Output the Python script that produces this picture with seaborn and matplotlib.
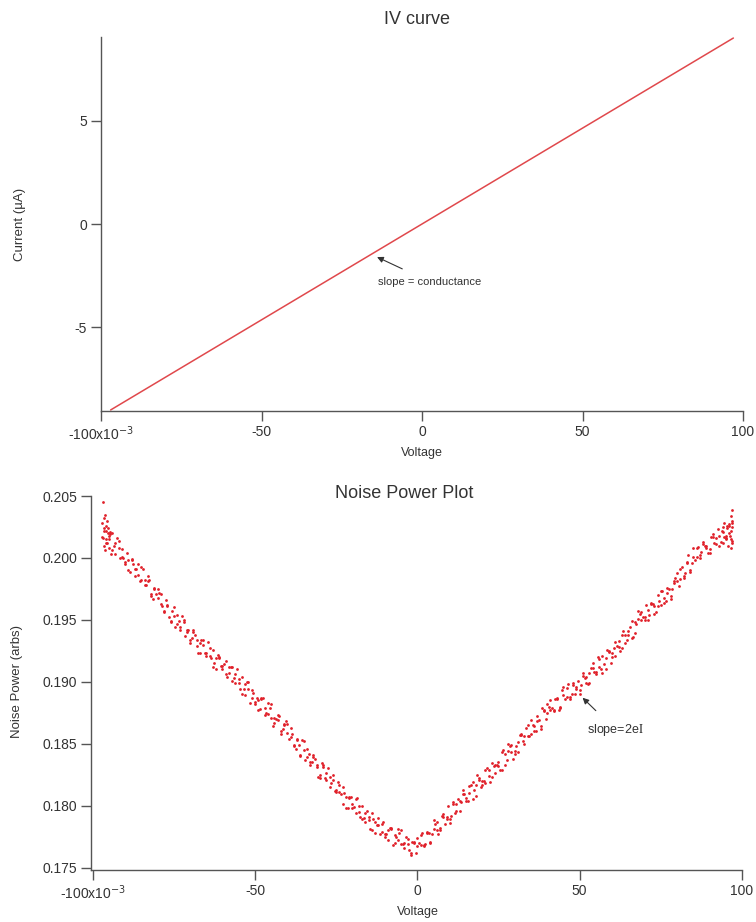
import numpy as np
import pandas as pd
import matplotlib
matplotlib.use("Agg")
import matplotlib.pyplot as plt
import seaborn as sns

sns.set_theme(style="ticks")
plt.rcParams['font.family'] = ['Liberation Sans', 'DejaVu Sans']
plt.rcParams['axes.unicode_minus'] = False

# IV curve: straight line, end points
iv_voltage = [-97.0, 97.0]
iv_current = [-9.0, 9.0]

# Noise power, sweeps at 1 mV steps (values in 1e-4 units of noise power)
sweep_voltage = [
    -97, -96, -95, -94, -93, -92, -91, -90, -89, -88, -87, -86, -85, -84, -83, -82, -81, -80, -79, -78,
    -77, -76, -75, -74, -73, -72, -71, -70, -69, -68, -67, -66, -65, -64, -63, -62, -61, -60, -59, -58,
    -57, -56, -55, -54, -53, -52, -51, -50, -49, -48, -47, -46, -45, -44, -43, -42, -41, -40, -39, -38,
    -37, -36, -35, -34, -33, -32, -31, -30, -29, -28, -27, -26, -25, -24, -23, -22, -21, -20, -19, -18,
    -17, -16, -15, -14, -13, -12, -11, -10, -9, -8, -7, -6, -5, -4, -3, -2, -1, 0, 1, 2,
    3, 4, 5, 6, 7, 8, 9, 10, 11, 12, 13, 14, 15, 16, 17, 18, 19, 20, 21, 22,
    23, 24, 25, 26, 27, 28, 29, 30, 31, 32, 33, 34, 35, 36, 37, 38, 39, 40, 41, 42,
    43, 44, 45, 46, 47, 48, 49, 50, 51, 52, 53, 54, 55, 56, 57, 58, 59, 60, 61, 62,
    63, 64, 65, 66, 67, 68, 69, 70, 71, 72, 73, 74, 75, 76, 77, 78, 79, 80, 81, 82,
    83, 84, 85, 86, 87, 88, 89, 90, 91, 92, 93, 94, 95, 96, 97,
]
sweep_a = [
    2028, 2015, 2018, 2006, 2012, 2014, 2001, 1995, 1998, 1998, 1985, 1995, 1982, 1982, 1985, 1969, 1975, 1968, 1971, 1957,
    1961, 1949, 1960, 1947, 1942, 1948, 1942, 1931, 1940, 1929, 1931, 1934, 1921, 1921, 1926, 1910, 1919, 1913, 1906, 1912,
    1912, 1899, 1902, 1890, 1898, 1900, 1887, 1882, 1885, 1886, 1873, 1883, 1871, 1871, 1873, 1858, 1865, 1859, 1863, 1849,
    1853, 1841, 1852, 1839, 1833, 1839, 1833, 1822, 1831, 1821, 1823, 1825, 1811, 1811, 1815, 1798, 1806, 1801, 1794, 1800,
    1800, 1787, 1791, 1780, 1787, 1790, 1779, 1775, 1780, 1781, 1770, 1781, 1769, 1770, 1773, 1760, 1770, 1767, 1776, 1768,
    1778, 1771, 1788, 1780, 1780, 1791, 1791, 1786, 1801, 1796, 1804, 1813, 1804, 1810, 1819, 1808, 1821, 1820, 1818, 1829,
    1834, 1826, 1835, 1829, 1842, 1850, 1843, 1842, 1851, 1857, 1850, 1865, 1858, 1864, 1872, 1862, 1876, 1875, 1885, 1877,
    1886, 1880, 1896, 1888, 1886, 1897, 1896, 1890, 1905, 1899, 1907, 1915, 1906, 1912, 1921, 1910, 1924, 1923, 1921, 1933,
    1938, 1931, 1941, 1935, 1948, 1957, 1950, 1950, 1958, 1963, 1955, 1970, 1962, 1968, 1976, 1967, 1980, 1981, 1991, 1985,
    1996, 1990, 2008, 2001, 2000, 2011, 2010, 2004, 2017, 2011, 2018, 2025, 2016, 2020, 2028,
]
sweep_b = [
    2017, 2022, 2015, 2020, 2003, 2008, 2007, 1997, 1990, 1999, 1991, 1986, 1993, 1978, 1981, 1971, 1976, 1975, 1963, 1956,
    1962, 1948, 1953, 1954, 1944, 1950, 1940, 1934, 1942, 1934, 1923, 1930, 1923, 1927, 1912, 1919, 1920, 1910, 1917, 1907,
    1901, 1906, 1899, 1904, 1889, 1894, 1893, 1884, 1877, 1887, 1879, 1874, 1882, 1867, 1869, 1860, 1866, 1866, 1855, 1848,
    1854, 1840, 1845, 1846, 1835, 1841, 1831, 1825, 1833, 1826, 1815, 1821, 1813, 1817, 1801, 1807, 1807, 1798, 1805, 1795,
    1789, 1794, 1788, 1794, 1778, 1784, 1785, 1777, 1772, 1782, 1776, 1772, 1780, 1766, 1769, 1762, 1771, 1774, 1768, 1767,
    1779, 1770, 1781, 1787, 1782, 1793, 1789, 1789, 1803, 1801, 1796, 1809, 1806, 1816, 1805, 1817, 1822, 1817, 1829, 1824,
    1823, 1833, 1832, 1843, 1833, 1844, 1849, 1844, 1843, 1858, 1856, 1856, 1869, 1860, 1868, 1864, 1877, 1882, 1877, 1876,
    1887, 1879, 1889, 1895, 1888, 1899, 1894, 1893, 1907, 1904, 1899, 1911, 1908, 1918, 1907, 1919, 1925, 1920, 1932, 1928,
    1927, 1938, 1938, 1949, 1939, 1951, 1956, 1952, 1950, 1964, 1961, 1961, 1973, 1964, 1972, 1969, 1981, 1988, 1983, 1984,
    1997, 1989, 2001, 2008, 2002, 2013, 2008, 2007, 2019, 2016, 2010, 2021, 2018, 2026, 2014,
]
# third pass, sampled between the whole-mV points
half_voltage = [
    -96.5, -95.5, -94.5, -93.5, -92.5, -91.5, -90.5, -89.5, -88.5, -87.5, -86.5, -85.5, -84.5, -83.5, -82.5, -81.5,
    -80.5, -79.5, -78.5, -77.5, -76.5, -75.5, -74.5, -73.5, -72.5, -71.5, -70.5, -69.5, -68.5, -67.5, -66.5, -65.5,
    -64.5, -63.5, -62.5, -61.5, -60.5, -59.5, -58.5, -57.5, -56.5, -55.5, -54.5, -53.5, -52.5, -51.5, -50.5, -49.5,
    -48.5, -47.5, -46.5, -45.5, -44.5, -43.5, -42.5, -41.5, -40.5, -39.5, -38.5, -37.5, -36.5, -35.5, -34.5, -33.5,
    -32.5, -31.5, -30.5, -29.5, -28.5, -27.5, -26.5, -25.5, -24.5, -23.5, -22.5, -21.5, -20.5, -19.5, -18.5, -17.5,
    -16.5, -15.5, -14.5, -13.5, -12.5, -11.5, -10.5, -9.5, -8.5, -7.5, -6.5, -5.5, -4.5, -3.5, -2.5, -1.5,
    -0.5, 0.5, 1.5, 2.5, 3.5, 4.5, 5.5, 6.5, 7.5, 8.5, 9.5, 10.5, 11.5, 12.5, 13.5, 14.5,
    15.5, 16.5, 17.5, 18.5, 19.5, 20.5, 21.5, 22.5, 23.5, 24.5, 25.5, 26.5, 27.5, 28.5, 29.5, 30.5,
    31.5, 32.5, 33.5, 34.5, 35.5, 36.5, 37.5, 38.5, 39.5, 40.5, 41.5, 42.5, 43.5, 44.5, 45.5, 46.5,
    47.5, 48.5, 49.5, 50.5, 51.5, 52.5, 53.5, 54.5, 55.5, 56.5, 57.5, 58.5, 59.5, 60.5, 61.5, 62.5,
    63.5, 64.5, 65.5, 66.5, 67.5, 68.5, 69.5, 70.5, 71.5, 72.5, 73.5, 74.5, 75.5, 76.5, 77.5, 78.5,
    79.5, 80.5, 81.5, 82.5, 83.5, 84.5, 85.5, 86.5, 87.5, 88.5, 89.5, 90.5, 91.5, 92.5, 93.5, 94.5,
    95.5, 96.5,
]
sweep_c = [
    2022, 2012, 2019, 2010, 2016, 2000, 2000, 2004, 1989, 1995, 1991, 1981, 1991, 1978, 1982, 1967,
    1971, 1972, 1961, 1966, 1952, 1957, 1944, 1949, 1953, 1937, 1942, 1935, 1938, 1923, 1934, 1923,
    1932, 1919, 1915, 1922, 1913, 1914, 1904, 1912, 1903, 1910, 1894, 1894, 1900, 1883, 1891, 1887,
    1878, 1887, 1875, 1879, 1864, 1870, 1872, 1862, 1868, 1854, 1858, 1846, 1849, 1853, 1837, 1842,
    1835, 1838, 1823, 1834, 1822, 1830, 1818, 1812, 1819, 1809, 1810, 1798, 1807, 1799, 1806, 1791,
    1790, 1796, 1781, 1789, 1784, 1777, 1787, 1777, 1782, 1768, 1775, 1778, 1769, 1775, 1764, 1771,
    1762, 1770, 1778, 1769, 1778, 1777, 1785, 1777, 1792, 1785, 1800, 1792, 1794, 1805, 1803, 1809,
    1804, 1817, 1813, 1825, 1815, 1820, 1830, 1819, 1832, 1833, 1829, 1845, 1837, 1848, 1838, 1848,
    1857, 1852, 1863, 1856, 1865, 1860, 1869, 1879, 1870, 1880, 1879, 1886, 1877, 1893, 1886, 1898,
    1890, 1890, 1901, 1897, 1903, 1898, 1911, 1908, 1920, 1910, 1914, 1926, 1915, 1927, 1929, 1925,
    1941, 1934, 1944, 1936, 1947, 1955, 1952, 1962, 1954, 1963, 1956, 1965, 1973, 1965, 1975, 1975,
    1984, 1977, 1993, 1988, 2002, 1996, 1998, 2009, 2005, 2010, 2004, 2017, 2012, 2023, 2013, 2017,
    2026, 2015,
]
# dense clusters where the sweep turns around
end_voltage = [-96.9, -96.8, -96.6, -96.5, -96.4, -96.3, -96.2, -96.0, -95.8, -95.6, -95.4, -95.2, -95.0, -94.6, -94.2,
               93.8, 94.2, 94.6, 95.0, 95.4, 95.7, 96.0, 96.3, 96.5, 96.6, 96.7, 96.8, 96.9, 96.9, 97.0]
end_power = [2016, 2045, 2032, 2024, 2010, 2006, 2035, 2026, 2012, 2030, 2020, 2024, 2008, 2021, 2003,
             2022, 2012, 2028, 2015, 2024, 2010, 2027, 2018, 2034, 2008, 2022, 2030, 2039, 2012, 2025]

noise = pd.DataFrame({
    "Voltage": sweep_voltage + sweep_voltage + half_voltage + end_voltage,
    "Noise": [v * 1e-4 for v in sweep_a + sweep_b + sweep_c + end_power],
})
iv = pd.DataFrame({"Voltage": iv_voltage, "Current": iv_current})

xticks = [-100, -50, 0, 50, 100]
xticklabels = [r'-100x10$^{-3}$', '-50', '0', '50', '100']

text_col = "#333333"
axis_col = "#555555"

fig = plt.figure(figsize=(7.56, 9.22), dpi=100)
ax1 = fig.add_axes([101 / 756, 1 - 411 / 922, 642 / 756, 374 / 922])
ax2 = fig.add_axes([91 / 756, 1 - 870 / 922, 651 / 756, 374 / 922])

sns.lineplot(data=iv, x="Voltage", y="Current", ax=ax1, color="#e0484c", linewidth=1.1)
ax1.set_xlim(-100, 100)
ax1.set_ylim(-9.05, 9.05)
ax1.set_yticks([-5, 0, 5])
ax1.annotate("slope = conductance", xy=(-14.0, -1.6), xytext=(2.5, -2.8),
             ha="center", va="center", fontsize=8, color=text_col,
             arrowprops=dict(arrowstyle="-|>", color="#333333", lw=0.8,
                             shrinkA=8, shrinkB=0, mutation_scale=9))

sns.scatterplot(data=noise, x="Voltage", y="Noise", ax=ax2, color="#e0202a",
                s=4, linewidth=0, edgecolor=None)
ax2.set_xlim(-100.5, 100)
ax2.set_ylim(0.1748, 0.205)
ax2.set_yticks([0.175, 0.180, 0.185, 0.190, 0.195, 0.200, 0.205])
ax2.set_yticklabels(["0.175", "0.180", "0.185", "0.190", "0.195", "0.200", "0.205"])
ax2.annotate(r"slope=2e$\mathrm{I}$", xy=(50.9, 0.18871), xytext=(61.0, 0.18613),
             ha="center", va="center", fontsize=9, color=text_col, math_fontfamily="stix",
             arrowprops=dict(arrowstyle="-|>", color="#333333", lw=0.8,
                             shrinkA=8, shrinkB=0, mutation_scale=9))

for ax in (ax1, ax2):
    ax.set_xticks(xticks)
    ax.set_xticklabels(xticklabels)
    ax.set_xlabel("")
    ax.set_ylabel("")
    for side in ("top", "right"):
        ax.spines[side].set_visible(False)
    for side in ("left", "bottom"):
        ax.spines[side].set_color(axis_col)
        ax.spines[side].set_linewidth(1.0)
    ax.tick_params(axis="both", direction="out", length=7, width=1.0, color=axis_col,
                   labelsize=10, labelcolor=text_col, pad=3)
    ax.set_facecolor("white")

fig.text(417 / 756, 1 - 19 / 922, "IV curve", ha="center", va="center", fontsize=13, color=text_col)
fig.text(422 / 756, 1 - 453 / 922, "Voltage", ha="center", va="center", fontsize=9, color=text_col)
fig.text(20 / 756, 1 - 224 / 922, "Current (\u00b5A)", ha="center", va="center", rotation=90,
         fontsize=9.5, color=text_col)

fig.text(404 / 756, 1 - 493 / 922, "Noise Power Plot", ha="center", va="center", fontsize=13, color=text_col)
fig.text(418 / 756, 1 - 912 / 922, "Voltage", ha="center", va="center", fontsize=9, color=text_col)
fig.text(17 / 756, 1 - 682 / 922, "Noise Power (arbs)", ha="center", va="center", rotation=90,
         fontsize=9.5, color=text_col)

fig.savefig("out.png", dpi=100, facecolor="white")
